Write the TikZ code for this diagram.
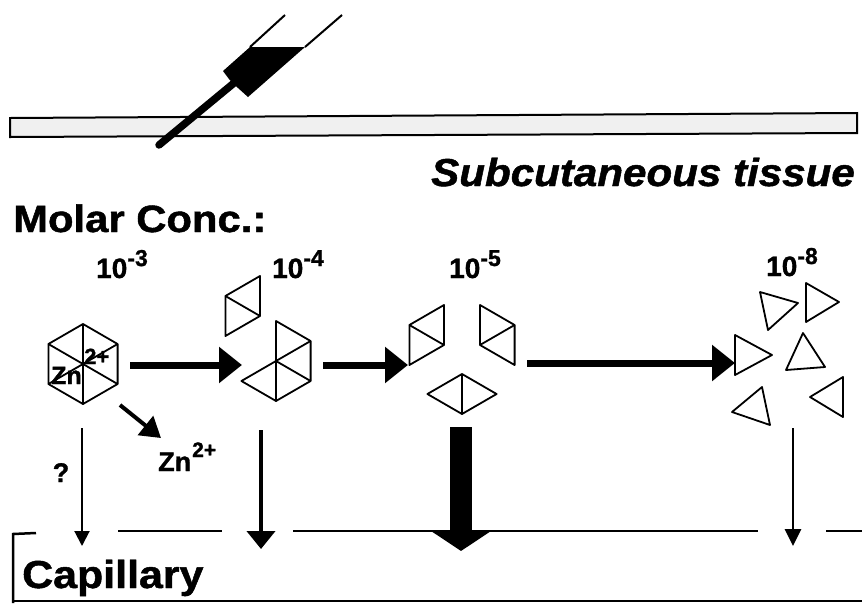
\documentclass[tikz,border=0pt]{standalone}
\usepackage{fontspec}
\setmainfont{Liberation Sans}
% heavier weight for the labels
\newfontfamily\heavy[FakeBold=1.2]{Liberation Sans Bold}
\newfontfamily\heavyit[FakeBold=1.2]{Liberation Sans Bold Italic}
\usetikzlibrary{arrows.meta}

\newcommand{\fs}[1]{\fontsize{#1}{#1}\selectfont}

\begin{document}
\begin{tikzpicture}[x=1pt,y=-1pt,
  frag/.style={draw=black, line width=1.8pt, line join=round},
  title/.style={font=\heavy\fs{38}, inner sep=0pt, anchor=base west, xscale=1.1},
  conc/.style={font=\heavy\fs{28}, inner sep=0pt, anchor=base west},
  flow/.style={line width=7pt, -{Triangle[length=23pt,width=35pt]}},
  membrane/.style={line width=2.5pt}]

\useasboundingbox[fill=white] (0,0) rectangle (862,603);

% skin surface strip
\draw[line width=2pt, fill=gray!12] (10,118) -- (857,113) -- (857,133) -- (10,137) -- cycle;

% syringe with needle
\draw[line width=2pt] (285,15) -- (250,47);
\draw[line width=2pt] (342,15) -- (305,47);
\fill (250,47) -- (305,47) -- (248,97) -- (238,88) -- (229,79) -- (223,71) -- cycle;
\draw[line width=7.5pt, line cap=round] (234,83) -- (159,145);

% labels
\node[font=\heavyit\fs{39}, inner sep=0pt, anchor=base east, xscale=1.08] (tissue) at (855,186) {Subcutaneous tissue};
\node[title] (molar) at (13,232) {Molar Conc.:};
\node[conc] (c3) at (96,278) {10\raisebox{12pt}{\fs{23}-3}};
\node[conc] (c4) at (272,278) {10\raisebox{12pt}{\fs{23}-4}};
\node[conc] (c5) at (449,278) {10\raisebox{12pt}{\fs{23}-5}};
\node[conc] (c8) at (766,276) {10\raisebox{12pt}{\fs{23}-8}};

% hexamer
\draw[frag] (83,324) -- (117.6,344) -- (117.6,384) -- (83,404) -- (48.4,384) -- (48.4,344) -- cycle;
\draw[frag] (83,324) -- (83,404) (48.4,344) -- (117.6,384) (117.6,344) -- (48.4,384);
\node[font=\heavy\fs{25}, inner sep=0pt, anchor=base west] (zna) at (51,384) {Zn};
\node[font=\heavy\fs{22}, inner sep=0pt, anchor=base west] (zncharge) at (84,364) {2+};

% tetramer + dimer
\draw[frag] (225.4,296) -- (260,276) -- (260,316) -- (225.4,336) -- cycle;
\draw[frag] (225.4,296) -- (260,316);
\draw[frag] (276,321) -- (310.6,341) -- (310.6,381) -- (276,401) -- (241.4,381) -- (276,361) -- cycle;
\draw[frag] (276,361) -- (310.6,341) (276,361) -- (310.6,381) (276,361) -- (276,401);

% three dimers
\draw[frag] (409.4,325) -- (444,305) -- (444,345) -- (409.4,365) -- cycle;
\draw[frag] (409.4,325) -- (444,345);
\draw[frag] (480,345) -- (480,305) -- (514.6,325) -- (514.6,365) -- cycle;
\draw[frag] (480,345) -- (514.6,325);
\draw[frag] (462,374) -- (496.6,394) -- (462,414) -- (427.4,394) -- cycle;
\draw[frag] (462,374) -- (462,414);

% monomers
\draw[frag] (760,292) -- (798,303) -- (768,330) -- cycle;
\draw[frag] (806,283) -- (839,302) -- (806,322) -- cycle;
\draw[frag] (735,335) -- (772,355) -- (735,375) -- cycle;
\draw[frag] (803,333) -- (825,367) -- (786,370) -- cycle;
\draw[frag] (843,377) -- (843,417) -- (810,397) -- cycle;
\draw[frag] (762,387) -- (770,425) -- (732,412) -- cycle;

% dissociation arrows
\coordinate (h1) at (130,365);
\coordinate (t2) at (242,365);
\coordinate (h2) at (323,365);
\coordinate (t3) at (408,365);
\coordinate (h3) at (527,363);
\coordinate (t4) at (735,363);
\draw[flow] (h1) -- (t2);
\draw[flow] (h2) -- (t3);
\draw[flow] (h3) -- (t4);

% free zinc release
\coordinate (zs) at (120,405);
\coordinate (ze) at (161,438);
\draw[line width=4pt, -{Triangle[length=20pt,width=24pt]}] (zs) -- (ze);
\node[font=\heavy\fs{27}, inner sep=0pt, anchor=base west] (znb) at (158,471) {Zn};
\node[font=\heavy\fs{21}, inner sep=0pt, anchor=base west] (znbcharge) at (192,457) {2+};

% capillary wall
\draw[membrane] (36,533) -- (13,534) -- (13,603);
\draw[membrane] (118,531) -- (222,531);
\draw[membrane] (293,531) -- (758,531);
\draw[membrane] (826,531) -- (862,531);
\draw[line width=2pt] (13,601) -- (862,601);
\node[title, font=\heavy\fs{39}] (cap) at (22,588) {Capillary};

% absorption arrows
\coordinate (a1) at (82,428);   \coordinate (b1) at (82,546);
\coordinate (a2) at (261,430);  \coordinate (b2) at (261,549);
\coordinate (a3) at (461,427);  \coordinate (b3) at (461,551);
\coordinate (a4) at (793,428);  \coordinate (b4) at (793,546);
\draw[line width=2pt, -{Triangle[length=15pt,width=15pt]}] (a1) -- (b1);
\draw[line width=4pt, -{Triangle[length=18pt,width=28pt]}] (a2) -- (b2);
\draw[line width=22pt, -{Triangle[length=21pt,width=62pt]}] (a3) -- (b3);
\draw[line width=2.8pt, -{Triangle[length=17pt,width=16pt]}] (a4) -- (b4);
\node[font=\heavy\fs{27}, inner sep=0pt, anchor=base] (q) at (61,482) {?};

\end{tikzpicture}
\end{document}
